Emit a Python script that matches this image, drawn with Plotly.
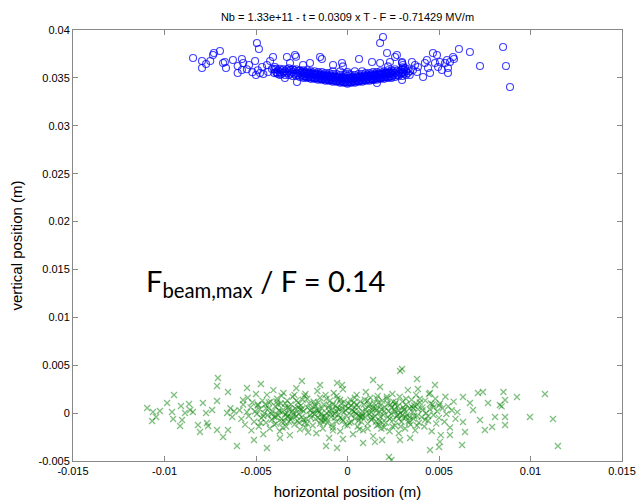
import plotly.graph_objects as go

# ---------------- data (positions in mm) ----------------
# Blue circles: scattered points
BLUE_X_MM = [
    -8.44, -7.95, -7.95, -7.73, -7.5, -7.35, -6.97, -7.3, -6.8, -6.64, -6.7, -6.26, -6.0, -6.0,
    -5.77, -5.77, -5.7, -5.38, -5.05, -4.95, -4.84, -4.78, -4.67, -4.4, -4.34, -4.23, -4.13,
    -3.96, -3.85, -5.2, -5.0, -4.6, -5.5, -4.9,
    -4.07, -3.69, -3.42, -3.31, -3.14, -2.87, -2.76, -2.81, -2.43, -2.05, -1.5, -1.4, -0.79,
    -0.3, -0.25, 0.63, 1.34, 1.78, 1.94, 2.16, 1.78, 2.21, 2.32, 2.6, 2.7, 2.98, 3.03, 2.76,
    2.05, 1.61, 1.4,
    2.98, 3.03, 2.98, 2.98, 3.14, 3.52, 3.69, 3.58, 3.8, 3.85, 4.13, 4.23, 4.34, 4.4, 4.51,
    4.67, 4.78, 4.89, 4.95, 5.05, 5.16, 5.33, 5.44, 5.49, 5.49, 5.6, 5.77, 5.82, 6.09, 6.69,
    7.24, 8.5, 8.66, 8.88,
]
BLUE_Y_MM = [
    37.08, 36.76, 36.03, 36.45, 36.76, 37.39, 37.81, 37.6, 36.55, 36.03, 36.66, 36.87, 36.24, 35.51,
    36.97, 35.82, 36.55, 36.34, 36.76, 38.64, 38.02, 35.51, 36.14, 36.34, 35.61, 36.76, 35.93,
    36.14, 35.51, 35.6, 35.3, 35.4, 35.9, 35.8,
    37.18, 35.3, 34.99, 37.18, 36.55, 37.39, 34.57, 37.2, 36.34, 36.55, 37.18, 36.97, 36.34,
    36.55, 36.2, 36.97, 36.66, 38.64, 39.27, 37.6, 36.55, 36.2, 36.66, 37.18, 37.39, 36.55, 36.1, 35.3,
    35.09, 34.47, 34.78,
    36.66, 36.34, 35.51, 34.78, 36.03, 36.66, 36.34, 35.82, 35.61, 36.14, 35.09, 36.55, 36.87, 36.03, 35.51,
    37.6, 36.55, 37.39, 36.14, 36.66, 35.82, 36.55, 36.87, 36.03, 35.51, 36.66, 37.18, 36.97, 38.02, 37.7,
    36.24, 38.23, 36.24, 34.05,
]
# Blue circles: dense V-shaped core
BLUE_CORE_X_MM = [
    -4.0, -4.0, -3.8, -3.8, -3.6, -3.6, -3.4, -3.4, -3.2, -3.2, -3.2, -3.0, -3.0, -3.0,
    -2.8, -2.8, -2.8, -2.6, -2.6, -2.6, -2.4, -2.4, -2.4, -2.2, -2.2, -2.2, -2.0, -2.0, -2.0,
    -1.8, -1.8, -1.8, -1.6, -1.6, -1.6, -1.4, -1.4, -1.4, -1.2, -1.2, -1.2, -1.0, -1.0, -1.0,
    -0.8, -0.8, -0.8, -0.8, -0.6, -0.6, -0.6, -0.4, -0.4, -0.4, -0.4, -0.2, -0.2, -0.2,
    0.0, 0.0, 0.0, 0.0, 0.2, 0.2, 0.2, 0.4, 0.4, 0.4, 0.4, 0.6, 0.6, 0.6, 0.8, 0.8, 0.8, 0.8,
    1.0, 1.0, 1.0, 1.2, 1.2, 1.2, 1.4, 1.4, 1.4, 1.6, 1.6, 1.6, 1.8, 1.8, 1.8, 2.0, 2.0, 2.0,
    2.2, 2.2, 2.2, 2.4, 2.4, 2.4, 2.6, 2.6, 2.6, 2.8, 2.8, 3.0, 3.0, 3.0, 3.2, 3.2, 3.4, 3.4,
    # interleaved rows
    -3.9, -3.9, -3.7, -3.7, -3.5, -3.5, -3.3, -3.3, -3.1, -3.1, -2.9, -2.9, -2.7, -2.7,
    -2.5, -2.5, -2.3, -2.3, -2.1, -2.1, -1.9, -1.9, -1.7, -1.7, -1.5, -1.5, -1.3, -1.3,
    -1.1, -1.1, -0.9, -0.9, -0.7, -0.7, -0.5, -0.5, -0.3, -0.3, -0.1, -0.1, -0.1,
    0.1, 0.1, 0.1, 0.3, 0.3, 0.5, 0.5, 0.7, 0.7, 0.9, 0.9, 1.1, 1.1, 1.3, 1.3, 1.5, 1.5,
    1.7, 1.7, 1.9, 1.9, 2.1, 2.1, 2.3, 2.3, 2.5, 2.5, 2.7, 2.7, 2.9, 2.9, 3.1, 3.1, 3.3, 3.3,
    # innermost, densest part
    -2.45, -2.45, -2.35, -2.35, -2.25, -2.25, -2.15, -2.15, -2.05, -2.05, -1.95, -1.95,
    -1.85, -1.85, -1.75, -1.75, -1.65, -1.65, -1.55, -1.55, -1.45, -1.45, -1.35, -1.35,
    -1.25, -1.25, -1.15, -1.15, -1.05, -1.05, -0.95, -0.95, -0.85, -0.85, -0.75, -0.75,
    -0.65, -0.65, -0.55, -0.55, -0.45, -0.45, -0.35, -0.35, -0.25, -0.25, -0.15, -0.15,
    -0.05, -0.05,
    0.05, 0.05, 0.15, 0.15, 0.25, 0.25, 0.35, 0.35, 0.45, 0.45, 0.55, 0.55, 0.65, 0.65,
    0.75, 0.75, 0.85, 0.85, 0.95, 0.95, 1.05, 1.05, 1.15, 1.15, 1.25, 1.25, 1.35, 1.35,
    1.45, 1.45, 1.55, 1.55, 1.65, 1.65, 1.75, 1.75, 1.85, 1.85, 1.95, 1.95, 2.05, 2.05,
    2.15, 2.15, 2.25, 2.25, 2.35, 2.35, 2.45, 2.45,
]
BLUE_CORE_Y_MM = [
    35.5, 35.9, 35.4, 35.8, 35.4, 35.8, 35.3, 35.7, 35.3, 35.7, 36.0, 35.2, 35.6, 35.9,
    35.2, 35.5, 35.9, 35.1, 35.5, 35.8, 35.0, 35.4, 35.8, 35.0, 35.4, 35.8, 34.9, 35.3, 35.7,
    34.9, 35.3, 35.7, 34.8, 35.2, 35.6, 34.8, 35.2, 35.6, 34.7, 35.1, 35.5, 34.7, 35.1, 35.5,
    34.6, 35.0, 35.4, 35.7, 34.6, 35.0, 35.4, 34.5, 34.9, 35.3, 35.7, 34.5, 34.9, 35.3,
    34.4, 34.8, 35.2, 35.6, 34.5, 34.9, 35.3, 34.5, 34.9, 35.3, 35.7, 34.6, 35.0, 35.4, 34.6, 35.0, 35.4, 35.7,
    34.7, 35.1, 35.5, 34.7, 35.1, 35.5, 34.8, 35.2, 35.6, 34.8, 35.2, 35.6, 34.9, 35.3, 35.7, 34.9, 35.3, 35.7,
    35.0, 35.4, 35.8, 35.0, 35.4, 35.8, 35.1, 35.5, 35.9, 35.2, 35.6, 35.2, 35.6, 35.9, 35.3, 35.7, 35.3, 35.7,
    # interleaved rows
    35.6, 35.95, 35.6, 35.95, 35.55, 35.9, 35.5, 35.9, 35.45, 35.85, 35.4, 35.8, 35.35, 35.75,
    35.3, 35.7, 35.2, 35.6, 35.15, 35.55, 35.1, 35.5, 35.05, 35.45, 35.0, 35.4, 34.95, 35.35,
    34.9, 35.3, 34.85, 35.25, 34.8, 35.2, 34.75, 35.15, 34.7, 35.1, 34.6, 35.0, 35.4,
    34.6, 35.0, 35.4, 34.7, 35.1, 34.75, 35.15, 34.8, 35.2, 34.85, 35.25, 34.9, 35.3, 34.95, 35.35, 35.0, 35.4,
    35.05, 35.45, 35.1, 35.5, 35.15, 35.55, 35.2, 35.6, 35.3, 35.7, 35.35, 35.75, 35.4, 35.8, 35.45, 35.85, 35.5, 35.9,
    # innermost, densest part
    35.15, 35.55, 35.13, 35.53, 35.11, 35.51, 35.08, 35.48, 35.05, 35.45, 35.03, 35.43,
    35.0, 35.4, 34.97, 35.37, 34.95, 35.35, 34.92, 35.32, 34.89, 35.29, 34.86, 35.26,
    34.84, 35.24, 34.81, 35.21, 34.78, 35.18, 34.76, 35.16, 34.73, 35.13, 34.7, 35.1,
    34.68, 35.08, 34.65, 35.05, 34.62, 35.02, 34.59, 34.99, 34.57, 34.97, 34.54, 34.94,
    34.51, 34.91,
    34.51, 34.91, 34.54, 34.94, 34.57, 34.97, 34.59, 34.99, 34.62, 35.02, 34.65, 35.05, 34.68, 35.08,
    34.7, 35.1, 34.73, 35.13, 34.76, 35.16, 34.78, 35.18, 34.81, 35.21, 34.84, 35.24, 34.86, 35.26,
    34.89, 35.29, 34.92, 35.32, 34.95, 35.35, 34.97, 35.37, 35.0, 35.4, 35.03, 35.43, 35.05, 35.45,
    35.08, 35.48, 35.11, 35.51, 35.13, 35.53, 35.15, 35.55,
]

# Green crosses
GREEN_X_MM = [
    # left tail
    -10.95, -10.63, -10.25, -10.68, -10.46, -9.86, -9.48, -9.59, -9.53, -9.1, -9.04, -9.15, -8.88,
    -8.66, -8.6, -8.45, -7.9, -8.17, -8.06, -7.73, -7.68, -7.62, -7.4, -7.13, -7.13, -7.08, -7.13,
    -6.8, -6.53, -6.53, -6.58, -6.4, -6.3, -6.2, -6.04, -5.71, -5.49,
    # -6 .. -4
    -5.9, -5.8, -5.7, -5.6, -5.5, -5.45, -5.4, -5.3, -5.25, -5.2, -5.1, -5.05, -5.0, -4.95, -4.9,
    -4.85, -4.8, -4.7, -4.65, -4.6, -4.55, -4.5, -4.45, -4.4, -4.35, -4.3, -4.25, -4.2, -4.15,
    -4.1, -4.05, -4.0,
    # -4 .. -2
    -3.95, -3.9, -3.85, -3.8, -3.75, -3.7, -3.65, -3.6, -3.55, -3.5, -3.45, -3.4, -3.35, -3.3,
    -3.25, -3.2, -3.15, -3.1, -3.05, -3.0, -2.95, -2.9, -2.85, -2.8, -2.75, -2.7, -2.65, -2.6,
    -2.55, -2.5, -2.45, -2.4, -2.35, -2.3, -2.25, -2.2, -2.15, -2.1, -2.05,
    -3.8, -3.6, -3.4, -3.2, -3.0, -2.8, -2.6, -2.4, -2.2, -3.9, -3.3, -2.7,
    # -2 .. 0
    -1.95, -1.9, -1.85, -1.8, -1.75, -1.7, -1.65, -1.6, -1.55, -1.5, -1.45, -1.4, -1.35, -1.3,
    -1.25, -1.2, -1.15, -1.1, -1.05, -1.0, -0.95, -0.9, -0.85, -0.8, -0.75, -0.7, -0.65, -0.6,
    -0.55, -0.5, -0.45, -0.4, -0.35, -0.3, -0.25, -0.2, -0.15, -0.1, -0.05,
    -1.8, -1.6, -1.4, -1.2, -1.0, -0.8, -0.6, -0.4, -0.2, -1.5, -0.9, -0.3,
    # 0 .. 2
    0.05, 0.1, 0.15, 0.2, 0.25, 0.3, 0.35, 0.4, 0.45, 0.5, 0.55, 0.6, 0.65, 0.7, 0.75, 0.8,
    0.85, 0.9, 0.95, 1.0, 1.05, 1.1, 1.15, 1.2, 1.25, 1.3, 1.35, 1.4, 1.45, 1.5, 1.55, 1.6,
    1.65, 1.7, 1.75, 1.8, 1.85, 1.9, 1.95,
    0.2, 0.4, 0.6, 0.8, 1.0, 1.2, 1.4, 1.6, 1.8, 0.5, 1.1, 1.7,
    # 2 .. 4
    2.05, 2.1, 2.15, 2.2, 2.25, 2.3, 2.35, 2.4, 2.45, 2.5, 2.55, 2.6, 2.65, 2.7, 2.75, 2.8,
    2.85, 2.9, 2.95, 3.0, 3.05, 3.1, 3.15, 3.2, 3.25, 3.3, 3.35, 3.4, 3.45, 3.5, 3.55, 3.6,
    3.65, 3.7, 3.75, 3.8, 3.85, 3.9, 3.95,
    2.2, 2.6, 3.0, 3.4, 2.4, 2.8, 3.2, 3.6, 2.0, 3.8,
    # 4 .. 6
    4.05, 4.1, 4.2, 4.25, 4.3, 4.4, 4.45, 4.5, 4.6, 4.65, 4.7, 4.8, 4.85, 4.9, 5.0, 5.05, 5.1,
    5.2, 5.3, 5.35, 5.4, 5.5, 5.6, 5.7, 5.8, 5.9, 6.0,
    # right tail
    6.31, 6.31, 6.42, 6.26, 6.69, 6.86, 7.13, 7.24, 7.4, 7.51, 7.68, 7.9, 8.06, 8.33, 8.42, 8.52,
    8.61, 8.61, 8.61, 9.26, 9.97, 10.79, 11.23, 11.5,
    # scattered outliers above / below the cloud
    2.98, 2.87, 1.4, 3.8, 4.78, 4.51, 3.85, 1.78, 0.85, 2.27, 4.51, 5.0, 5.05, 5.6, 2.87, 3.42,
    1.89, 1.5, 2.4, -4.73, -2.49, -1.5, -0.57, -0.3, -4.4, -3.69, -5.11, -1.17, -0.57, -0.25,
    # extra dense-core crosses
    -4.9, -4.6, -4.3, -4.0, -3.7, -3.4, -3.1, -2.8, -2.5, -2.2, -1.9, -1.6, -1.3, -1.0, -0.7,
    -0.4, -0.1, 0.2, 0.5, 0.8, 1.1, 1.4, 1.7, 2.0, 2.3, 2.6, 2.9, 3.2, 3.5, 3.8, 4.1, 4.4, 4.7, 5.0,
    -4.75, -4.45, -4.15, -3.85, -3.55, -3.25, -2.95, -2.65, -2.35, -2.05, -1.75, -1.45, -1.15,
    -0.85, -0.55, -0.25, 0.05, 0.35, 0.65, 0.95, 1.25, 1.55, 1.85, 2.15, 2.45, 2.75, 3.05, 3.35,
    3.65, 3.95, 4.25, 4.55,
    -3.3, -2.9, -2.3, -1.7, -1.2, -0.6, 0.0, 0.7, 1.3, 1.9, 2.5, 3.1, -3.6, -2.0, -0.8, 0.4, 1.6, 2.8,
]
GREEN_Y_MM = [
    # left tail
    0.53, 0.12, 0.22, -0.82, -0.4, 1.06, 1.89, 0.12, -0.61, 0.74, -0.72, -1.34, 0.01,
    0.95, 0.33, 0.12, 1.06, -1.24, -1.97, 0.01, -1.03, -1.35, 0.33, 1.27, -1.76, 3.67, 2.83,
    -2.49, -1.76, 2.2, 0.01, 0.5, -0.4, 0.2, -3.43, 1.37, 2.62,
    # -6 .. -4
    0.3, -0.6, 0.9, -1.2, 0.1, 1.6, -0.3, 0.6, -1.8, 1.1, -0.9, 0.2, 2.0, -0.1, 0.8,
    -1.4, 0.4, -0.5, 1.3, -2.2, 0.0, 0.9, -1.0, 1.9, -0.2, 0.5, -1.6, 1.2, -0.7,
    0.2, 2.4, -0.4,
    # -4 .. -2
    0.7, -1.1, 1.5, -0.2, 0.3, -1.9, 1.0, -0.6, 0.1, 2.1, -0.9, 0.6, -1.4, 1.3,
    -0.3, 0.4, -2.3, 0.9, -0.5, 1.7, 0.0, -1.2, 0.5, 2.6, -0.8, 1.1, -0.1, -1.7,
    0.8, -0.4, 1.4, 0.2, -1.0, 2.0, -0.6, 0.6, -2.0, 1.0, -0.2,
    0.9, 1.8, -0.1, -0.9, 0.3, -0.3, 0.4, -0.7, 1.5, -0.4, 0.0, 0.6,
    # -2 .. 0
    0.4, -1.3, 1.2, -0.1, 0.7, -2.1, 2.3, -0.5, 0.1, 1.6, -0.8, 0.5, -1.6, 0.9,
    -0.3, 1.9, 0.0, -1.0, 0.6, -2.6, 1.3, -0.4, 0.3, -1.5, 2.1, -0.1, 0.8, -0.9,
    1.5, -0.2, 0.4, -1.9, 1.0, -0.6, 2.5, 0.1, -1.2, 0.7, -0.3,
    0.9, 0.3, -0.4, -0.7, 0.2, 0.9, 0.2, -0.5, 1.2, -1.1, -0.1, 0.5,
    # 0 .. 2
    0.5, -1.0, 1.4, -0.2, 0.3, -2.2, 1.1, -0.6, 0.0, 1.9, -1.4, 0.6, -0.3, 1.2, -0.9, 0.2,
    -1.8, 0.9, -0.4, 2.2, 0.1, -1.1, 0.7, -0.1, 1.6, -0.7, 0.4, -2.4, 1.0, -0.3, 0.5, -1.3,
    1.8, 0.0, -0.8, 0.8, -1.6, 1.3, -0.2,
    0.8, 1.6, -0.8, -0.4, 0.4, 0.9, -0.5, 0.3, -0.4, -0.1, -1.6, 1.1,
    # 2 .. 4
    0.6, -1.0, 1.5, -0.4, 0.2, -1.9, 0.9, -0.1, 2.0, -0.7, 0.4, -1.3, 1.1, -0.3, 0.7, -2.1,
    1.7, 0.0, -0.9, 1.2, -0.5, 0.3, -1.6, 0.9, -0.2, 2.4, -0.8, 0.5, -1.2, 1.4, 0.1, -0.6,
    0.8, -1.8, 1.9, -0.3, 0.4, -1.0, 1.1,
    1.0, 0.2, -0.2, -0.4, 0.6, 0.3, 1.5, 0.5, -1.5, 0.9,
    # 4 .. 6
    -0.4, 0.6, -1.4, 1.3, 0.0, -0.8, 2.0, 0.4, -1.9, 0.9, -0.2, 1.5, -1.1, 0.2, -0.5, 1.0, -2.3,
    0.5, -0.9, 1.7, -0.1, 0.7, -1.5, 0.3, 1.2, -0.6, 0.1,
    # right tail
    1.68, -0.93, -1.97, -3.33, 1.06, 0.33, 2.1, -0.72, 2.2, -1.76, 1.06, -1.45, -0.4, 0.85, 0.7, 2.2,
    1.37, -0.4, -1.24, 1.68, -0.4, 2.0, -0.61, -3.43,
    # scattered outliers above / below the cloud
    4.6, 4.4, 3.46, 3.56, 2.94, 2.1, 2.52, 2.73, -3.12, -4.58, -3.85, -3.54, -3.0, -2.29, -2.81, -2.6,
    -2.81, -3.0, -4.9, 3.04, 3.35, 2.94, 3.15, 2.94, -3.64, -2.6, -2.81, -3.43, -3.64, -2.71,
    # extra dense-core crosses
    0.9, -0.3, 1.1, -1.2, 0.2, 1.0, -0.7, 1.3, 0.4, -1.1, 0.0, 1.1, -0.9, 0.8, -0.5,
    1.4, 0.3, -0.9, 0.9, -0.2, 1.3, 0.6, -1.2, 0.2, -0.6, 0.9, -1.4, -0.4, 0.7, -1.3, 0.3, -0.3, 0.6, 0.8,
    -1.0, 0.5, -0.1, 1.2, -1.5, 0.6, -0.2, -1.0, 1.8, 0.3, -0.6, -0.1, 1.5,
    -1.2, 0.5, -0.8, 1.0, 0.2, -1.7, 1.4, -0.5, -0.9, 0.4, 1.7, -1.4, -0.2, 0.6, -1.0,
    -0.3, 1.5, -0.7, 1.0,
    -0.4, 1.9, -1.5, 0.3, -0.5, 1.8, -1.3, -0.4, 0.1, -1.0, 1.2, 0.4, -0.9, -0.5, -1.8, 0.6, 1.5, -0.6,
]

X_TICKS = [-0.015, -0.01, -0.005, 0, 0.005, 0.01, 0.015]
X_TICK_TEXT = ["-0.015", "-0.01", "-0.005", "0", "0.005", "0.01", "0.015"]
Y_TICKS = [-0.005, 0, 0.005, 0.01, 0.015, 0.02, 0.025, 0.03, 0.035, 0.04]
Y_TICK_TEXT = ["-0.005", "0", "0.005", "0.01", "0.015", "0.02", "0.025", "0.03", "0.035", "0.04"]

TITLE = "Nb = 1.33e+11 - t = 0.0309 x T - F = -0.71429 MV/m"
RATIO_TEXT = "F<sub>beam,max</sub> / F = 0.14"

MM = 1e-3

fig = go.Figure()

fig.add_trace(go.Scatter(
    x=[v * MM for v in GREEN_X_MM], y=[v * MM for v in GREEN_Y_MM],
    mode="markers",
    marker=dict(symbol="x-thin-open", size=6, color="rgba(0,128,0,0.5)",
                line=dict(color="rgba(0,128,0,0.5)", width=1.3)),
    showlegend=False, hoverinfo="skip",
))

fig.add_trace(go.Scatter(
    x=[v * MM for v in BLUE_CORE_X_MM + BLUE_X_MM],
    y=[v * MM for v in BLUE_CORE_Y_MM + BLUE_Y_MM],
    mode="markers",
    marker=dict(symbol="circle-open", size=7, color="rgba(0,0,255,0.75)",
                line=dict(width=1.1)),
    showlegend=False, hoverinfo="skip",
))

fig.add_annotation(
    x=-0.0111, y=0.0136, xref="x", yref="y",
    text=RATIO_TEXT, showarrow=False, xanchor="left", yanchor="middle",
    font=dict(family="Lato, Open Sans, sans-serif", size=29, color="black"),
)

axis_common = dict(
    showgrid=False, zeroline=False, showline=True, linecolor="#888888", linewidth=1,
    mirror="ticks", ticks="inside", ticklen=5, tickcolor="#888888", automargin=False,
    tickfont=dict(family="Liberation Sans, Arial, sans-serif", size=11, color="black"),
)

fig.update_layout(
    width=637, height=500,
    margin=dict(l=73, r=15, t=30, b=39),
    paper_bgcolor="white", plot_bgcolor="white",
    title=dict(text=TITLE, x=0.5, xref="paper", xanchor="center", y=0.966, yanchor="middle",
               font=dict(family="Liberation Sans, Arial, sans-serif", size=11, color="black")),
    xaxis=dict(range=[-0.015, 0.015], tickvals=X_TICKS, ticktext=X_TICK_TEXT,
               title=dict(text="horizontal position (m)", standoff=10,
                          font=dict(family="Liberation Sans, Arial, sans-serif", size=15, color="black")),
               **axis_common),
    yaxis=dict(range=[-0.005, 0.04], tickvals=Y_TICKS, ticktext=Y_TICK_TEXT,
               title=dict(text="vertical position (m)", standoff=12,
                          font=dict(family="Liberation Sans, Arial, sans-serif", size=15, color="black")),
               **axis_common),
)

fig.write_html("out.html")
